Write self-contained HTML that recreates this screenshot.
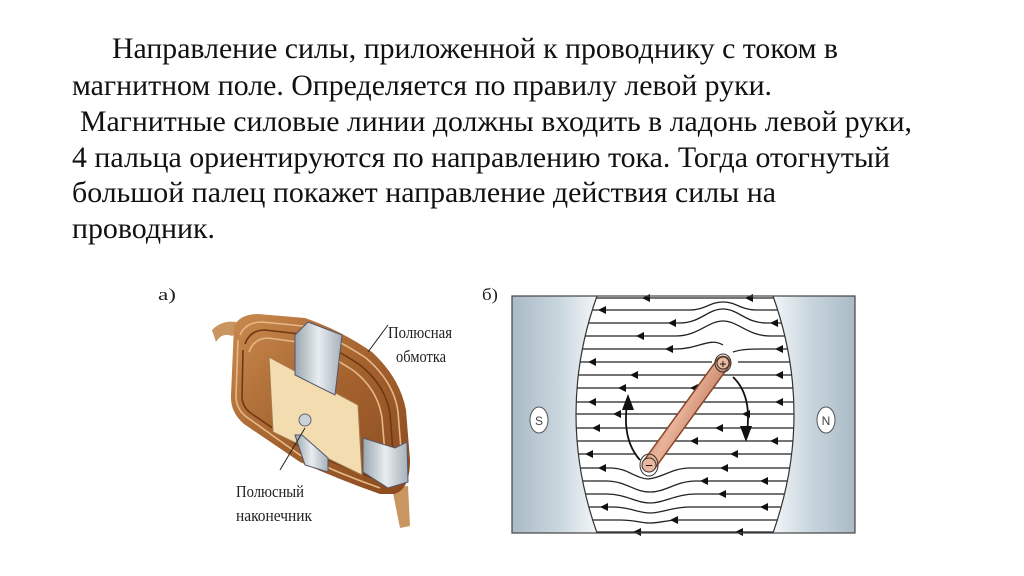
<!DOCTYPE html>
<html><head><meta charset="utf-8"><style>
html,body{margin:0;padding:0;background:#fff;}
svg{display:block}
</style></head><body>
<svg width="1024" height="576" viewBox="0 0 1024 576" xmlns="http://www.w3.org/2000/svg">
<defs>
<linearGradient id="gl" x1="0" x2="1"><stop offset="0" stop-color="#a9bac6"/><stop offset="0.55" stop-color="#c9d6de"/><stop offset="1" stop-color="#f2f6f8"/></linearGradient>
<linearGradient id="gr" x1="1" x2="0"><stop offset="0" stop-color="#a9bac6"/><stop offset="0.55" stop-color="#c9d6de"/><stop offset="1" stop-color="#f2f6f8"/></linearGradient>
<linearGradient id="rod" x1="0" x2="1" y1="0" y2="0.7"><stop offset="0" stop-color="#a65c3e"/><stop offset="0.5" stop-color="#eab49a"/><stop offset="1" stop-color="#a65c3e"/></linearGradient>
<linearGradient id="silv" x1="0" x2="1"><stop offset="0" stop-color="#9aa6ae"/><stop offset="0.5" stop-color="#e8edf0"/><stop offset="1" stop-color="#a5b0b8"/></linearGradient>
<linearGradient id="coil" x1="0" y1="0" x2="1" y2="1"><stop offset="0" stop-color="#c98a4e"/><stop offset="0.5" stop-color="#a4622e"/><stop offset="1" stop-color="#8a4a1e"/></linearGradient>
</defs>
<g font-family="Liberation Serif, serif" font-size="30" fill="#111">
<text x="112" y="58" textLength="726" lengthAdjust="spacingAndGlyphs">Направление силы, приложенной к проводнику с током в</text>
<text x="72" y="95" textLength="700" lengthAdjust="spacingAndGlyphs">магнитном поле. Определяется по правилу левой руки.</text>
<text x="80" y="131" textLength="832" lengthAdjust="spacingAndGlyphs">Магнитные силовые линии должны входить в ладонь левой руки,</text>
<text x="72" y="167" textLength="818" lengthAdjust="spacingAndGlyphs">4 пальца ориентируются по направлению тока. Тогда отогнутый</text>
<text x="72" y="202" textLength="704" lengthAdjust="spacingAndGlyphs">большой палец покажет направление действия силы на</text>
<text x="72" y="238" textLength="143" lengthAdjust="spacingAndGlyphs">проводник.</text>
</g>
<g font-family="Liberation Serif, serif" font-size="17" fill="#222">
<text x="158" y="300" textLength="18" lengthAdjust="spacingAndGlyphs">а)</text>
<text x="482" y="300" textLength="16" lengthAdjust="spacingAndGlyphs">б)</text>
<text x="388" y="338" textLength="64" lengthAdjust="spacingAndGlyphs">Полюсная</text>
<text x="396" y="362" textLength="50" lengthAdjust="spacingAndGlyphs">обмотка</text>
<text x="236" y="497" textLength="68" lengthAdjust="spacingAndGlyphs">Полюсный</text>
<text x="236" y="521" textLength="76" lengthAdjust="spacingAndGlyphs">наконечник</text>
</g>
<!-- coil -->
<g>
<path d="M212,330 Q222,320 236,322 L242,330 L232,336 Q222,332 216,342 Z" fill="#c99560"/>
<path d="M392,488 L400,528 L410,526 L408,486 Z" fill="#c99560"/>
<path d="M234,326 Q240,314 258,314 L305,318 Q340,330 372,352 Q400,378 406,410 L410,460 Q410,490 394,494 L380,494 Q340,480 300,462 L244,424 Q230,412 231,395 Z" fill="url(#coil)"/>
<g fill="none" stroke-width="1.6">
<path d="M240,335 Q246,322 262,322 L303,326 Q336,338 366,358 Q394,382 398,412 L402,462 Q402,484 390,486" stroke="#e6b888"/>
<path d="M245,344 Q250,330 265,330 L300,334 Q332,346 360,365 Q386,386 390,414 L394,464" stroke="#6f3814"/>
<path d="M249,352 Q254,338 268,338 L298,342 Q327,353 354,371 Q378,390 382,418 L386,466" stroke="#e6b888"/>
<path d="M238,340 L236,396 Q236,410 248,418 L300,455 Q340,474 380,488" stroke="#e6b888"/>
<path d="M243,350 L242,398 Q243,408 252,414 L302,448 Q340,466 378,480" stroke="#6f3814"/>
</g>
<polygon points="269,357 358,405 362,475 273,432" fill="#f3ddb0" stroke="#a77a4a" stroke-width="1"/>
<circle cx="305" cy="420" r="6" fill="#c9d3d9" stroke="#666"/>
<polygon points="295,335 308,322 342,335 335,395 295,375" fill="url(#silv)" stroke="#556" stroke-width="1"/>
<polygon points="295,435 302,435 328,458 328,472 305,465" fill="url(#silv)" stroke="#556" stroke-width="1"/>
<polygon points="363,438 395,448 407,442 408,482 388,488 363,472" fill="url(#silv)" stroke="#556" stroke-width="1"/>
<line x1="388" y1="325" x2="368" y2="352" stroke="#222"/>
<line x1="305" y1="428" x2="280" y2="470" stroke="#222"/>
</g>
<!-- field panel -->
<g>
<rect x="512" y="296" width="343" height="237" fill="#fff"/>
<g stroke="#222" stroke-width="1.3" fill="none">
<path d="M560,298 H810"/>
<path d="M560,310 H690 C705,310 710,302 723,302 C736,302 741,310 756,310 H810"/>
<path d="M560,323 H680 C700,323 708,309 723,309 C738,309 746,323 766,323 H810"/>
<path d="M560,336 H676 C698,336 708,321 723,321 C738,321 748,336 770,336 H810"/>
<path d="M560,349 H676 C698,349 710,337 723,345 M733,352 C742,349 750,349 770,349 H810"/>
<path d="M560,362 H712 M738,362 H810"/>
<path d="M560,375 H810"/><path d="M560,388 H810"/><path d="M560,402 H810"/>
<path d="M560,414 H810"/><path d="M560,428 H810"/><path d="M560,441 H810"/>
<path d="M560,454 H635 M664,454 H810"/>
<path d="M560,468 H610 C628,468 634,478 648,479 C662,478 672,468 690,468 H810"/>
<path d="M560,481 H606 C626,481 634,492 650,492 C666,492 676,481 696,481 H810"/>
<path d="M560,494 H606 C626,494 636,503 650,503 C664,503 676,494 696,494 H810"/>
<path d="M560,507 H612 C630,507 638,513 650,513 C662,513 672,507 690,507 H810"/>
<path d="M560,520 H620 C635,520 640,523 650,523 C660,523 666,520 680,520 H810"/>
<path d="M560,532 H810"/>
</g>
<g fill="#111">
<polygon points="642,298 650,294 650,302"/><polygon points="745,298 753,294 753,302"/>
<polygon points="598,310 606,306 606,314"/>
<polygon points="668,323 676,319 676,327"/><polygon points="770,323 778,319 778,327"/>
<polygon points="636,336 644,332 644,340"/>
<polygon points="665,349 673,345 673,353"/><polygon points="775,349 783,345 783,353"/>
<polygon points="588,362 596,358 596,366"/>
<polygon points="630,375 638,371 638,379"/><polygon points="775,375 783,371 783,379"/>
<polygon points="618,388 626,384 626,392"/><polygon points="690,388 698,384 698,392"/>
<polygon points="588,402 596,398 596,406"/><polygon points="775,402 783,398 783,406"/>
<polygon points="613,414 621,410 621,418"/><polygon points="742,414 750,410 750,418"/>
<polygon points="592,428 600,424 600,432"/><polygon points="715,428 723,424 723,432"/>
<polygon points="690,441 698,437 698,445"/>
<polygon points="770,441 778,437 778,445"/>
<polygon points="585,454 593,450 593,458"/><polygon points="730,454 738,450 738,458"/>
<polygon points="598,468 606,464 606,472"/><polygon points="720,468 728,464 728,472"/>
<polygon points="700,481 708,477 708,485"/><polygon points="760,481 768,477 768,485"/>
<polygon points="718,494 726,490 726,498"/><polygon points="600,507 608,503 608,511"/>
<polygon points="760,507 768,503 768,511"/><polygon points="670,520 678,516 678,524"/>
<polygon points="633,532 641,528 641,536"/><polygon points="735,532 743,528 743,536"/>
</g>
<path d="M512,296 L597,296 Q555,414 597,533 L512,533 Z" fill="url(#gl)"/>
<path d="M597,296 Q555,414 597,533" fill="none" stroke="#333" stroke-width="1.2"/>
<path d="M855,296 L773,296 Q815,414 773,533 L855,533 Z" fill="url(#gr)"/>
<path d="M773,296 Q815,414 773,533" fill="none" stroke="#333" stroke-width="1.2"/>
<rect x="512" y="296" width="343" height="237" fill="none" stroke="#444" stroke-width="1.2"/>
<line x1="649" y1="465" x2="723" y2="363" stroke="#8a4528" stroke-width="15" stroke-linecap="round"/>
<line x1="649" y1="465" x2="723" y2="363" stroke="url(#rod)" stroke-width="12" stroke-linecap="round"/>
<ellipse cx="723" cy="363" rx="8" ry="9" fill="none" stroke="#333" stroke-width="1"/>
<circle cx="723" cy="363" r="6" fill="#e9b89e" stroke="#333"/>
<text x="723" y="368" font-size="12" text-anchor="middle" font-family="Liberation Sans, sans-serif">+</text>
<ellipse cx="649" cy="465" rx="9" ry="11" fill="none" stroke="#333" stroke-width="1"/>
<circle cx="649" cy="465" r="7" fill="#e9b89e" stroke="#333"/>
<text x="649" y="470" font-size="13" text-anchor="middle" font-family="Liberation Sans, sans-serif">−</text>
<path d="M640,460 Q622,440 627,404" fill="none" stroke="#111" stroke-width="1.8"/>
<polygon points="628,394 622,410 634,410" fill="#111"/>
<path d="M733,377 Q752,395 747,432" fill="none" stroke="#111" stroke-width="1.8"/>
<polygon points="746,442 740,426 752,426" fill="#111"/>
<ellipse cx="539" cy="420" rx="9" ry="13" fill="#fff" stroke="#555"/>
<text x="539" y="425" font-size="12" text-anchor="middle" font-family="Liberation Sans, sans-serif" fill="#444">S</text>
<ellipse cx="826" cy="420" rx="9" ry="13" fill="#fff" stroke="#555"/>
<text x="826" y="425" font-size="12" text-anchor="middle" font-family="Liberation Sans, sans-serif" fill="#444">N</text>
</g>
</svg>
</body></html>
